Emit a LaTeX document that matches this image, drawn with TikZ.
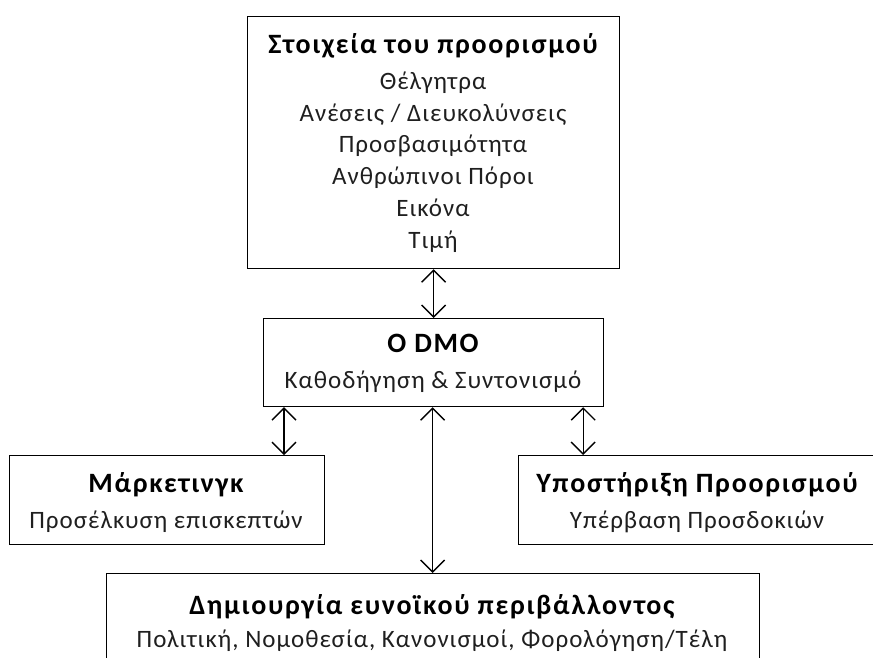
\documentclass[tikz,border=0pt]{standalone}
\usepackage{fontspec}
\setmainfont{Carlito}
\newfontfamily\regf[LetterSpace=4]{Carlito}
\newfontfamily\ttlf[LetterSpace=6]{Carlito}
\usetikzlibrary{arrows.meta}
\begin{document}
\begin{tikzpicture}[x=1pt,y=-1pt,
  box/.style={draw=black, line width=1.2pt, fill=white, inner sep=0pt, anchor=north west},
  ttl/.style={anchor=base, inner sep=0pt, font=\ttlf\fontsize{28}{32}\selectfont\bfseries},
  txt/.style={anchor=base, inner sep=0pt, font=\regf\fontsize{25}{29}\selectfont, text=black!88},
  dbl/.style={draw=black, line width=1.4pt, {Straight Barb[length=12pt,width=24pt,line width=1.4pt]}-{Straight Barb[length=12pt,width=24pt,line width=1.4pt]}}]
\useasboundingbox (0,0) rectangle (873,657);
\clip (0,0) rectangle (873,657);
% boxes
\node[box, minimum width=372pt, minimum height=252pt] (top) at (247,16) {};
\node[box, minimum width=340pt, minimum height=88pt] (dmo) at (263,318) {};
\node[box, minimum width=315pt, minimum height=89pt] (mkt) at (9,455) {};
\node[box, minimum width=358pt, minimum height=89pt] (sup) at (518,455) {};
\node[box, minimum width=653pt, minimum height=110pt] (env) at (106,573) {};
% texts
\node[ttl] (t0) at (433,53) {Στοιχεία του προορισμού};
\node[txt] (t1) at (433,89) {Θέλγητρα};
\node[txt] (t2) at (433,121) {Ανέσεις / Διευκολύνσεις};
\node[txt] (t3) at (433,152) {Προσβασιμότητα};
\node[txt] (t4) at (433,184) {Ανθρώπινοι Πόροι};
\node[txt] (t5) at (433,216) {Εικόνα};
\node[txt] (t6) at (433,248) {Τιμή};
\node[ttl] (d0) at (433,352) {O DMO};
\node[txt] (d1) at (433,388) {Καθοδήγηση \& Συντονισμό};
\node[ttl] (m0) at (166,492) {Μάρκετινγκ};
\node[txt] (m1) at (166,528) {Προσέλκυση επισκεπτών};
\node[ttl] (s0) at (697,492) {Υποστήριξη Προορισμού};
\node[txt] (s1) at (697,528) {Υπέρβαση Προσδοκιών};
\node[ttl] (e0) at (432,614) {Δημιουργία ευνοϊκού περιβάλλοντος};
\node[txt] (e1) at (432,647) {Πολιτική, Νομοθεσία, Κανονισμοί, Φορολόγηση/Τέλη};
% connectors
\draw[dbl] (top.south) -- (dmo.north);
\draw[dbl] ([xshift=21pt]dmo.south west) -- ([xshift=21pt]dmo.south west |- mkt.north);
\draw[dbl] ([xshift=-21pt]dmo.south east) -- ([xshift=-21pt]dmo.south east |- sup.north);
\draw[dbl] ([xshift=-1pt]dmo.south) -- ([xshift=-1pt]dmo.south |- env.north);
\end{tikzpicture}
\end{document}
